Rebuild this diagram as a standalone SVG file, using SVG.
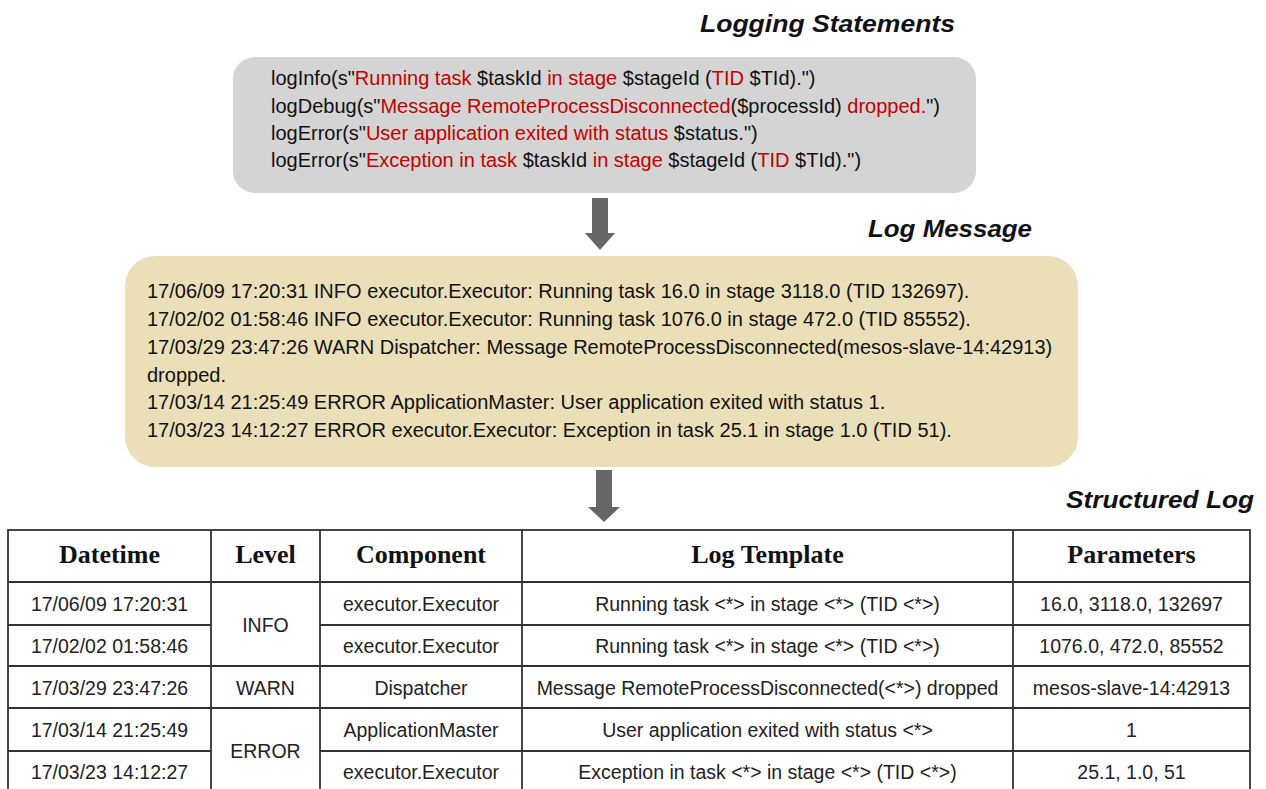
<svg xmlns="http://www.w3.org/2000/svg" width="1266" height="789" viewBox="0 0 1266 789">
  <style>
    .title { font-family: "Liberation Sans", Arial, sans-serif; font-weight: bold; font-style: italic; font-size: 23px; fill: #111; }
    .code { font-family: "Liberation Sans", Arial, sans-serif; font-size: 20px; fill: #111; }
    .r { fill: #C00000; }
    .msg { font-family: "Liberation Sans", Arial, sans-serif; font-size: 20px; fill: #111; }
    .th { font-family: "Liberation Serif", "Times New Roman", serif; font-weight: bold; font-size: 26px; fill: #111; text-anchor: middle; }
    .td { font-family: "Liberation Sans", Arial, sans-serif; font-size: 19.5px; fill: #222; text-anchor: middle; }
    .grid { stroke: #333; stroke-width: 1.8; fill: none; }
    .arrow { fill: #666; }
  </style>

  <rect width="1266" height="789" fill="#ffffff"/>

  <!-- Logging statements -->
  <g id="logging-statements">
    <text class="title" x="700" y="32" textLength="255" lengthAdjust="spacingAndGlyphs">Logging Statements</text>
    <rect x="233" y="57" width="743" height="136" rx="22" ry="22" fill="#D4D4D4"/>
    <text class="code" x="271" y="85">logInfo(s"<tspan class="r">Running task</tspan> $taskId <tspan class="r">in stage</tspan> $stageId (<tspan class="r">TID</tspan> $TId).")</text>
    <text class="code" x="271" y="113">logDebug(s"<tspan class="r">Message RemoteProcessDisconnected</tspan>($processId) <tspan class="r">dropped.</tspan>")</text>
    <text class="code" x="271" y="140">logError(s"<tspan class="r">User application exited with status</tspan> $status.")</text>
    <text class="code" x="271" y="167">logError(s"<tspan class="r">Exception in task</tspan> $taskId <tspan class="r">in stage</tspan> $stageId (<tspan class="r">TID</tspan> $TId).")</text>
  </g>

  <!-- Log messages -->
  <g id="log-message">
    <text class="title" x="868" y="237" textLength="164" lengthAdjust="spacingAndGlyphs">Log Message</text>
    <rect x="125" y="256" width="953" height="211" rx="30" ry="30" fill="#EBDFB9"/>
    <text class="msg" x="147" y="298">17/06/09 17:20:31 INFO executor.Executor: Running task 16.0 in stage 3118.0 (TID 132697).</text>
    <text class="msg" x="147" y="326">17/02/02 01:58:46 INFO executor.Executor: Running task 1076.0 in stage 472.0 (TID 85552).</text>
    <text class="msg" x="147" y="354">17/03/29 23:47:26 WARN Dispatcher: Message RemoteProcessDisconnected(mesos-slave-14:42913)</text>
    <text class="msg" x="147" y="382">dropped.</text>
    <text class="msg" x="147" y="409">17/03/14 21:25:49 ERROR ApplicationMaster: User application exited with status 1.</text>
    <text class="msg" x="147" y="437">17/03/23 14:12:27 ERROR executor.Executor: Exception in task 25.1 in stage 1.0 (TID 51).</text>
  </g>

  <!-- Flow arrows -->
  <g id="connectors">
    <polygon class="arrow" points="592,198 608,198 608,233 615,233 600,250 585,233 592,233"/>
    <polygon class="arrow" points="596,470 612,470 612,507 620,507 604,522 588,507 596,507"/>
  </g>

  <!-- Structured log table -->
  <g id="structured-log">
    <text class="title" x="1066" y="508" textLength="188" lengthAdjust="spacingAndGlyphs">Structured Log</text>

    <g class="grid">
      <rect x="8" y="530" width="1242" height="264"/>
      <line x1="211" y1="530" x2="211" y2="794"/>
      <line x1="320" y1="530" x2="320" y2="794"/>
      <line x1="522" y1="530" x2="522" y2="794"/>
      <line x1="1013" y1="530" x2="1013" y2="794"/>
      <line x1="8" y1="582" x2="1250" y2="582"/>
      <line x1="8" y1="625" x2="211" y2="625"/>
      <line x1="320" y1="625" x2="1250" y2="625"/>
      <line x1="8" y1="666" x2="1250" y2="666"/>
      <line x1="8" y1="708" x2="1250" y2="708"/>
      <line x1="8" y1="751" x2="211" y2="751"/>
      <line x1="320" y1="751" x2="1250" y2="751"/>
    </g>

    <text class="th" x="109.5" y="563">Datetime</text>
    <text class="th" x="265.5" y="563">Level</text>
    <text class="th" x="421" y="563">Component</text>
    <text class="th" x="767.5" y="563">Log Template</text>
    <text class="th" x="1131.5" y="563">Parameters</text>

    <text class="td" x="109.5" y="611">17/06/09 17:20:31</text>
    <text class="td" x="109.5" y="653">17/02/02 01:58:46</text>
    <text class="td" x="109.5" y="695">17/03/29 23:47:26</text>
    <text class="td" x="109.5" y="737">17/03/14 21:25:49</text>
    <text class="td" x="109.5" y="779">17/03/23 14:12:27</text>

    <text class="td" x="265.5" y="632">INFO</text>
    <text class="td" x="265.5" y="695">WARN</text>
    <text class="td" x="265.5" y="758">ERROR</text>

    <text class="td" x="421" y="611">executor.Executor</text>
    <text class="td" x="421" y="653">executor.Executor</text>
    <text class="td" x="421" y="695">Dispatcher</text>
    <text class="td" x="421" y="737">ApplicationMaster</text>
    <text class="td" x="421" y="779">executor.Executor</text>

    <text class="td" x="767.5" y="611">Running task &lt;*&gt; in stage &lt;*&gt; (TID &lt;*&gt;)</text>
    <text class="td" x="767.5" y="653">Running task &lt;*&gt; in stage &lt;*&gt; (TID &lt;*&gt;)</text>
    <text class="td" x="767.5" y="695">Message RemoteProcessDisconnected(&lt;*&gt;) dropped</text>
    <text class="td" x="767.5" y="737">User application exited with status &lt;*&gt;</text>
    <text class="td" x="767.5" y="779">Exception in task &lt;*&gt; in stage &lt;*&gt; (TID &lt;*&gt;)</text>

    <text class="td" x="1131.5" y="611">16.0, 3118.0, 132697</text>
    <text class="td" x="1131.5" y="653">1076.0, 472.0, 85552</text>
    <text class="td" x="1131.5" y="695">mesos-slave-14:42913</text>
    <text class="td" x="1131.5" y="737">1</text>
    <text class="td" x="1131.5" y="779">25.1, 1.0, 51</text>
  </g>
</svg>
